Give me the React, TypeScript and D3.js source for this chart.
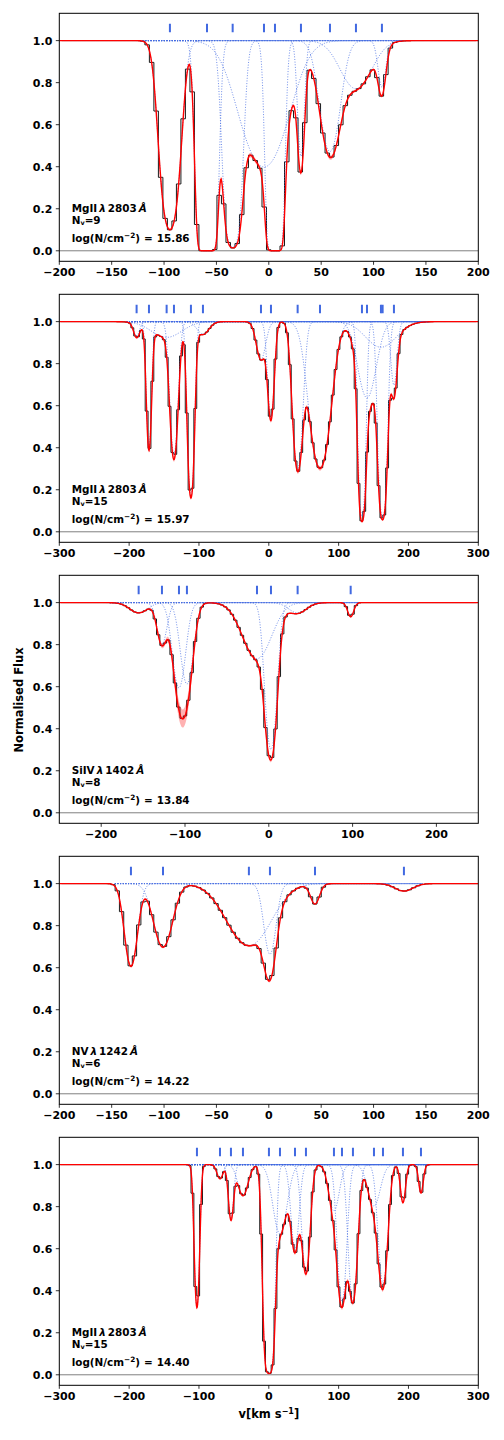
import React from "react";
import * as d3 from "d3";

// ---------- panel metadata ----------
const ionNames = ["MgII", "MgII", "SiIV", "NV", "MgII"];
const restWavelengths = ["2803", "2803", "1402", "1242", "2803"];
const nComponents = [9, 15, 8, 6, 15];
const logColumns = ["15.86", "15.97", "13.84", "14.22", "14.40"];
const xDomains = [
  [-200, 200],
  [-300, 300],
  [-250, 250],
  [-200, 200],
  [-300, 300],
];
const xTickValues = [
  [-200, -150, -100, -50, 0, 50, 100, 150, 200],
  [-300, -200, -100, 0, 100, 200, 300],
  [-200, -100, 0, 100, 200],
  [-200, -150, -100, -50, 0, 50, 100, 150, 200],
  [-300, -200, -100, 0, 100, 200, 300],
];
const yTickValues = [0, 0.2, 0.4, 0.6, 0.8, 1.0];
const fitWindows = [
  [-123, 128],
  [-204, 231],
  [-190, 107],
  [-147, 147],
  [-118, 231],
];
const pixelWidths = [4.3, 4.1, 4.0, 4.1, 4.1];

// ---------- fitted components (centre km/s, b km/s, optical depth, relative error) ----------
const comp1Centers = [-94.4, -59.0, -34.5, -4.6, 5.9, 30.7, 58.4, 83.2, 108.0];
const comp1B = [10, 7, 8, 28, 6, 4, 12, 20, 5];
const comp1Tau = [2.3, 15, 4, 0.92, 12, 0.8, 0.75, 0.26, 0.25];
const comp1Err = [0.03, 0.03, 0.03, 0.03, 0.03, 0.03, 0.03, 0.03, 0.03];

const comp2Centers = [-189.3, -171.6, -146.3, -135.8, -111.5, -94.3, -11.2, 3.1, 41.3, 73.3, 133.4, 140.6, 160.6, 163.0, 179.2];
const comp2B = [6, 4.5, 30, 7, 5.5, 12, 9, 6, 8.7, 18, 5.5, 17, 30, 6.6, 5.9];
const comp2Tau = [0.07, 0.91, 0.078, 1.0, 1.8, 0.06, 0.2, 0.62, 1.2, 1.2, 2.6, 0.45, 0.13, 2.66, 0.36];
const comp2Err = [0.03, 0.03, 0.03, 0.03, 0.03, 0.03, 0.03, 0.03, 0.03, 0.03, 0.03, 0.03, 0.03, 0.03, 0.03];

const comp3Centers = [-155.3, -127.5, -107.2, -97.7, -14.1, 2.6, 34.4, 97.7];
const comp3B = [15, 8, 10, 10, 23, 8.4, 15, 5];
const comp3Tau = [0.05, 0.22, 0.52, 0.49, 0.31, 1.2, 0.05, 0.07];
const comp3Err = [0.03, 0.06, 0.12, 0.12, 0.03, 0.03, 0.03, 0.03];

const comp4Centers = [-131.6, -101.0, -19.0, 1.1, 44.1, 129.0];
const comp4B = [8, 12, 28, 7.5, 6, 12];
const comp4Tau = [0.5, 0.36, 0.35, 0.41, 0.1, 0.036];
const comp4Err = [0.02, 0.02, 0.02, 0.02, 0.02, 0.02];

const comp5Centers = [-102.9, -69.9, -54.2, -37.0, 0.2, 16.0, 37.5, 53.2, 93.3, 104.8, 120.5, 150.6, 163.5, 192.1, 217.9];
const comp5B = [4.5, 6, 5, 10, 7, 13, 7.5, 7.5, 10, 8, 8, 12, 8.5, 5, 4.5];
const comp5Tau = [1.14, 0.07, 0.3, 0.16, 5, 0.4, 0.51, 0.73, 0.25, 1.05, 1.05, 0.22, 0.83, 0.2, 0.145];
const comp5Err = [0.03, 0.03, 0.03, 0.03, 0.03, 0.03, 0.03, 0.03, 0.03, 0.03, 0.03, 0.03, 0.03, 0.03, 0.03];

const componentTables = [
  { c: comp1Centers, b: comp1B, tau: comp1Tau, err: comp1Err },
  { c: comp2Centers, b: comp2B, tau: comp2Tau, err: comp2Err },
  { c: comp3Centers, b: comp3B, tau: comp3Tau, err: comp3Err },
  { c: comp4Centers, b: comp4B, tau: comp4Tau, err: comp4Err },
  { c: comp5Centers, b: comp5B, tau: comp5Tau, err: comp5Err },
];

// ---------- layout ----------
const W = 504;
const H = 1440;
const LEFT = 59.3;
const RIGHT = 478.3;
const TOP0 = 13.3;
const PH = 248;
const GAP = 281;
const Y_DOMAIN = [-0.05, 1.13];
const FONT = "'DejaVu Sans', 'Liberation Sans', sans-serif";
const ANNOT_SIZE = 10.4;

function tauAt(v: number, c: number, b: number, tau: number) {
  const z = (v - c) / b;
  return tau * Math.exp(-z * z);
}

function fmtTick(v: number, dec: number) {
  const s = Math.abs(v).toFixed(dec);
  return v < 0 ? "\u2212" + s : s;
}

function Panel({ idx }: { idx: number }) {
  const top = TOP0 + idx * GAP;
  const xd = xDomains[idx];
  const x = d3.scaleLinear().domain(xd).range([LEFT, RIGHT]);
  const y = d3.scaleLinear().domain(Y_DOMAIN).range([top + PH, top]);
  const comps = componentTables[idx];
  const nC = comps.c.length;

  const totalTau = (v: number, scaleSign: number) => {
    let t = 0;
    for (let k = 0; k < nC; k++) {
      t += tauAt(v, comps.c[k], comps.b[k], comps.tau[k]) * (1 + scaleSign * comps.err[k]);
    }
    return t;
  };

  const fine = d3.range(xd[0], xd[1] + 0.001, 0.5);
  const modelPts = fine.map((v) => [v, Math.exp(-totalTau(v, 0))] as [number, number]);
  const bandPts = fine.map((v) => ({
    v,
    lo: Math.exp(-totalTau(v, 1)),
    hi: Math.exp(-totalTau(v, -1)),
  }));

  const pw = pixelWidths[idx];
  const bins = d3.range(xd[0] + pw / 2, xd[1], pw);
  const dataPts = bins.map((v) => [v, Math.exp(-totalTau(v, 0))] as [number, number]);

  const line = d3
    .line<[number, number]>()
    .x((d) => x(d[0]))
    .y((d) => y(d[1]));
  const stepLine = d3
    .line<[number, number]>()
    .x((d) => x(d[0]))
    .y((d) => y(d[1]))
    .curve(d3.curveStep);
  const area = d3
    .area<{ v: number; lo: number; hi: number }>()
    .x((d) => x(d.v))
    .y0((d) => y(d.lo))
    .y1((d) => y(d.hi));

  const fw = fitWindows[idx];
  const compGrid = d3.range(fw[0], fw[1] + 0.001, 0.5);
  const compPaths = comps.c.map((c, k) =>
    line(compGrid.map((v) => [v, Math.exp(-tauAt(v, c, comps.b[k], comps.tau[k]))] as [number, number]))
  );

  const clipId = `clip${idx}`;
  const textX = 71.7;

  return (
    <g>
      <defs>
        <clipPath id={clipId}>
          <rect x={LEFT} y={top} width={RIGHT - LEFT} height={PH} />
        </clipPath>
      </defs>
      <g clipPath={`url(#${clipId})`}>
        <line x1={LEFT} x2={RIGHT} y1={y(0)} y2={y(0)} stroke="#808080" strokeWidth={1} />
        <path d={stepLine(dataPts) || ""} fill="none" stroke="#1a1a1a" strokeWidth={1} />
        {compPaths.map((d, k) => (
          <path
            key={k}
            d={d || ""}
            fill="none"
            stroke="#4169e1"
            strokeOpacity={0.75}
            strokeWidth={1}
            strokeDasharray="1 1.65"
          />
        ))}
        <path d={area(bandPts) || ""} fill="#ff0000" fillOpacity={0.3} stroke="none" />
        <path d={line(modelPts) || ""} fill="none" stroke="#ff0000" strokeWidth={1.4} />
        {comps.c.map((c, k) => (
          <line
            key={k}
            x1={x(c)}
            x2={x(c)}
            y1={y(1.04)}
            y2={y(1.08)}
            stroke="#4169e1"
            strokeWidth={2}
          />
        ))}
      </g>
      <rect x={LEFT} y={top} width={RIGHT - LEFT} height={PH} fill="none" stroke="#000" strokeWidth={1} />
      {xTickValues[idx].map((t) => (
        <g key={t}>
          <line x1={x(t)} x2={x(t)} y1={top + PH} y2={top + PH + 3.5} stroke="#000" strokeWidth={0.8} />
          <text
            x={x(t)}
            y={top + PH + 15}
            textAnchor="middle"
            fontFamily={FONT}
            fontWeight="bold"
            fontSize={11}
          >
            {fmtTick(t, 0)}
          </text>
        </g>
      ))}
      {yTickValues.map((t) => (
        <g key={t}>
          <line x1={LEFT - 3.5} x2={LEFT} y1={y(t)} y2={y(t)} stroke="#000" strokeWidth={0.8} />
          <text
            x={LEFT - 7}
            y={y(t) + 4}
            textAnchor="end"
            fontFamily={FONT}
            fontWeight="bold"
            fontSize={11}
          >
            {fmtTick(t, 1)}
          </text>
        </g>
      ))}
      <text x={textX} y={top + 198.7} fontFamily={FONT} fontWeight="bold" fontSize={ANNOT_SIZE}>
        {ionNames[idx]}
        <tspan fontStyle="italic" dx={2}>λ</tspan>
        <tspan dx={2}>{restWavelengths[idx]}</tspan>
        <tspan fontStyle="italic" dx={2}>Å</tspan>
      </text>
      <text x={textX} y={top + 211} fontFamily={FONT} fontWeight="bold" fontSize={ANNOT_SIZE}>
        N
        <tspan fontSize={6.5} dy={1}>v</tspan>
        <tspan dy={-1}>={nComponents[idx]}</tspan>
      </text>
      <text x={textX} y={top + 229} fontFamily={FONT} fontWeight="bold" fontSize={ANNOT_SIZE}>
        log(N/cm
        <tspan fontSize={7.3} dy={-4}>−2</tspan>
        <tspan dy={4}>)</tspan>
        <tspan dx={4}>=</tspan>
        <tspan dx={4}>{logColumns[idx]}</tspan>
      </text>
    </g>
  );
}

export default function App() {
  return (
    <svg
      width={W}
      height={H}
      viewBox={`0 0 ${W} ${H}`}
      style={{ position: "absolute", left: 0, top: 0, background: "#fff" }}
    >
      <rect x={0} y={0} width={W} height={H} fill="#fff" />
      {[0, 1, 2, 3, 4].map((i) => (
        <Panel key={i} idx={i} />
      ))}
      <text
        transform={`translate(19,700) rotate(-90)`}
        textAnchor="middle"
        dominantBaseline="central"
        fontFamily={FONT}
        fontWeight="bold"
        fontSize={11.5}
      >
        Normalised Flux
      </text>
      <text x={(LEFT + RIGHT) / 2} y={1418} textAnchor="middle" fontFamily={FONT} fontWeight="bold" fontSize={11.5}>
        v[km s
        <tspan fontSize={8} dy={-4.5}>−1</tspan>
        <tspan dy={4.5}>]</tspan>
      </text>
    </svg>
  );
}
